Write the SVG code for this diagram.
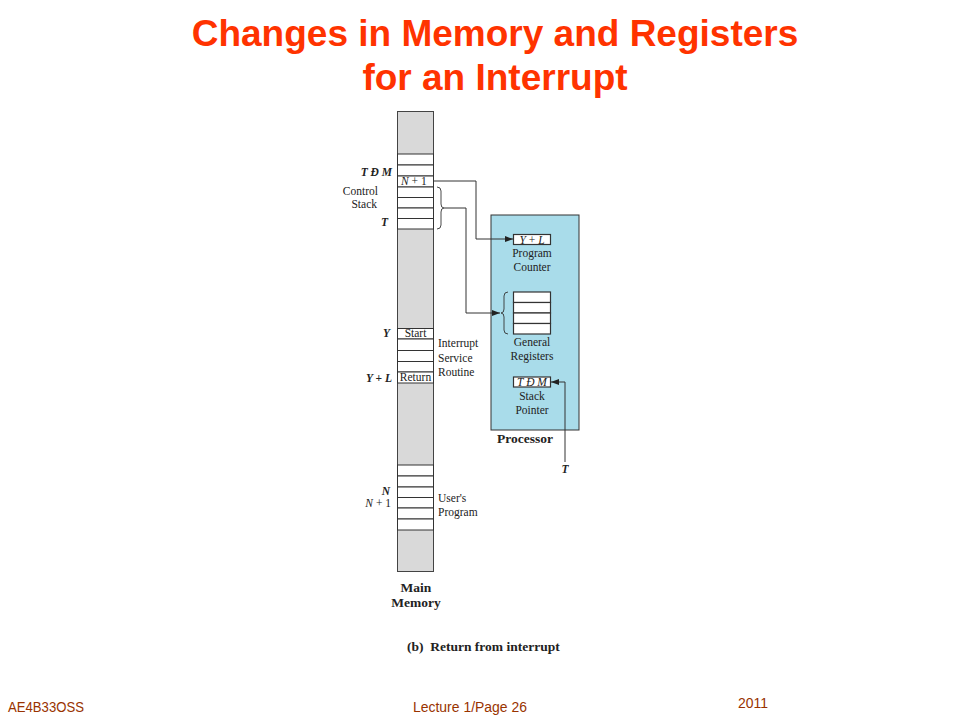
<svg xmlns="http://www.w3.org/2000/svg" width="960" height="720" viewBox="0 0 960 720">
<defs>
<marker id="ah" viewBox="0 0 8 6" refX="8" refY="3" markerWidth="8" markerHeight="6" markerUnits="userSpaceOnUse" orient="auto">
<path d="M0,0 L8,3 L0,6 z" fill="#222"/>
</marker>
<style>
.title{font-family:"Liberation Sans",Arial,sans-serif;font-weight:bold;font-size:37px;fill:#ff3300;text-anchor:middle}
.foot{font-family:"Liberation Sans",Arial,sans-serif;font-size:14px;fill:#993300}
.t{font-family:"Liberation Serif","Times New Roman",serif;font-size:11.5px;fill:#222}
.i{font-style:italic}
.n{font-style:normal}
.b{font-weight:bold}
.m{text-anchor:middle}
.e{text-anchor:end}
.big{font-size:13.5px;font-weight:bold}
.col{fill:#d9d9d9;stroke:#444;stroke-width:1}
.cell{fill:#fff;stroke:#333;stroke-width:1}
.proc{fill:#a9dcea;stroke:#333;stroke-width:1}
.reg{fill:#fff;stroke:#333;stroke-width:1.2}
.wire{fill:none;stroke:#333;stroke-width:1}
.brace{fill:none;stroke:#333;stroke-width:0.9}
</style>
</defs>
<rect width="960" height="720" fill="#fff"/>

<g id="title">
<text class="title" x="495" y="46">Changes in Memory and Registers</text>
<text class="title" x="495" y="90">for an Interrupt</text>
</g>

<g id="main-memory">
<rect class="col" x="397.5" y="111.5" width="36" height="460"/>
<g id="control-stack">
<rect class="cell" x="397.5" y="154" width="36" height="11"/>
<rect class="cell" x="397.5" y="165" width="36" height="11"/>
<rect class="cell" x="397.5" y="176" width="36" height="11"/>
<rect class="cell" x="397.5" y="187" width="36" height="10.5"/>
<rect class="cell" x="397.5" y="197.5" width="36" height="10.5"/>
<rect class="cell" x="397.5" y="208" width="36" height="10.5"/>
<rect class="cell" x="397.5" y="218.5" width="36" height="10.5"/>
<text class="t i" x="401" y="185">N<tspan class="n"> + 1</tspan></text>
<text class="t i b e" x="392" y="176">T Ð M</text>
<text class="t e" x="378" y="195">Control</text>
<text class="t e" x="377" y="208">Stack</text>
<text class="t i b e" x="388" y="226">T</text>
<path class="brace" d="M437,187 q4,0 4,4 v13 q0,4 3,4 q-3,0 -3,4 v13 q0,4 -4,4"/>
</g>
<g id="isr">
<rect class="cell" x="397.5" y="328.5" width="36" height="10.5"/>
<rect class="cell" x="397.5" y="339" width="36" height="11.5"/>
<rect class="cell" x="397.5" y="350.5" width="36" height="11"/>
<rect class="cell" x="397.5" y="361.5" width="36" height="10.5"/>
<rect class="cell" x="397.5" y="372" width="36" height="11"/>
<text class="t m" x="415.5" y="337">Start</text>
<text class="t m" x="415.5" y="381" font-size="10">Return</text>
<text class="t i b e" x="390" y="337">Y</text>
<text class="t i b e" x="392" y="382">Y <tspan class="n">+</tspan> L</text>
<text class="t" x="438" y="347">Interrupt</text>
<text class="t" x="438" y="362">Service</text>
<text class="t" x="438" y="376">Routine</text>
</g>
<g id="users-program">
<rect class="cell" x="397.5" y="465" width="36" height="11"/>
<rect class="cell" x="397.5" y="476" width="36" height="11"/>
<rect class="cell" x="397.5" y="487" width="36" height="10.5"/>
<rect class="cell" x="397.5" y="497.5" width="36" height="10.5"/>
<rect class="cell" x="397.5" y="508" width="36" height="11"/>
<rect class="cell" x="397.5" y="519" width="36" height="11"/>
<text class="t i b e" x="390" y="495">N</text>
<text class="t i e" x="391" y="507">N<tspan class="n"> + 1</tspan></text>
<text class="t" x="438" y="502">User's</text>
<text class="t" x="438" y="516">Program</text>
</g>
<text class="t big m" x="416" y="592">Main</text>
<text class="t big m" x="416" y="607">Memory</text>
</g>

<g id="processor">
<rect class="proc" x="491" y="215" width="88" height="215"/>
<g id="program-counter">
<rect class="reg" x="513.5" y="234.5" width="37" height="10"/>
<text class="t i m" x="532" y="243.5">Y <tspan class="n">+</tspan> L</text>
<text class="t m" x="532" y="257">Program</text>
<text class="t m" x="532" y="271">Counter</text>
</g>
<g id="general-registers">
<rect class="reg" x="513.5" y="292" width="37" height="10.5"/>
<rect class="reg" x="513.5" y="302.5" width="37" height="10.5"/>
<rect class="reg" x="513.5" y="313" width="37" height="10.5"/>
<rect class="reg" x="513.5" y="323.5" width="37" height="10.5"/>
<path class="brace" d="M508,292 q-4,0 -4,4 v13 q0,4 -3,4 q3,0 3,4 v13 q0,4 4,4"/>
<text class="t m" x="532" y="346">General</text>
<text class="t m" x="532" y="360">Registers</text>
</g>
<g id="stack-pointer">
<rect class="reg" x="513.5" y="377" width="37" height="10"/>
<text class="t i m" x="532" y="386">T Ð M</text>
<text class="t m" x="532" y="400">Stack</text>
<text class="t m" x="532" y="414">Pointer</text>
</g>
<text class="t big" x="497" y="443">Processor</text>
</g>

<g id="connectors">
<polyline class="wire" points="433.5,181 476,181 476,239 513,239" marker-end="url(#ah)"/>
<polyline class="wire" points="444,208 466,208 466,313 500,313" marker-end="url(#ah)"/>
<polyline class="wire" points="565,462 565,382 551,382" marker-end="url(#ah)"/>
<text class="t i b m" x="565" y="473">T</text>
</g>

<text class="t big" x="407" y="651" xml:space="preserve">(b)  Return from interrupt</text>

<g id="footer">
<text class="foot" x="8" y="712" textLength="76" lengthAdjust="spacingAndGlyphs">AE4B33OSS</text>
<text class="foot" x="413" y="712" textLength="114" lengthAdjust="spacingAndGlyphs">Lecture 1/Page 26</text>
<text class="foot" x="738" y="708" textLength="30" lengthAdjust="spacingAndGlyphs">2011</text>
</g>
</svg>
